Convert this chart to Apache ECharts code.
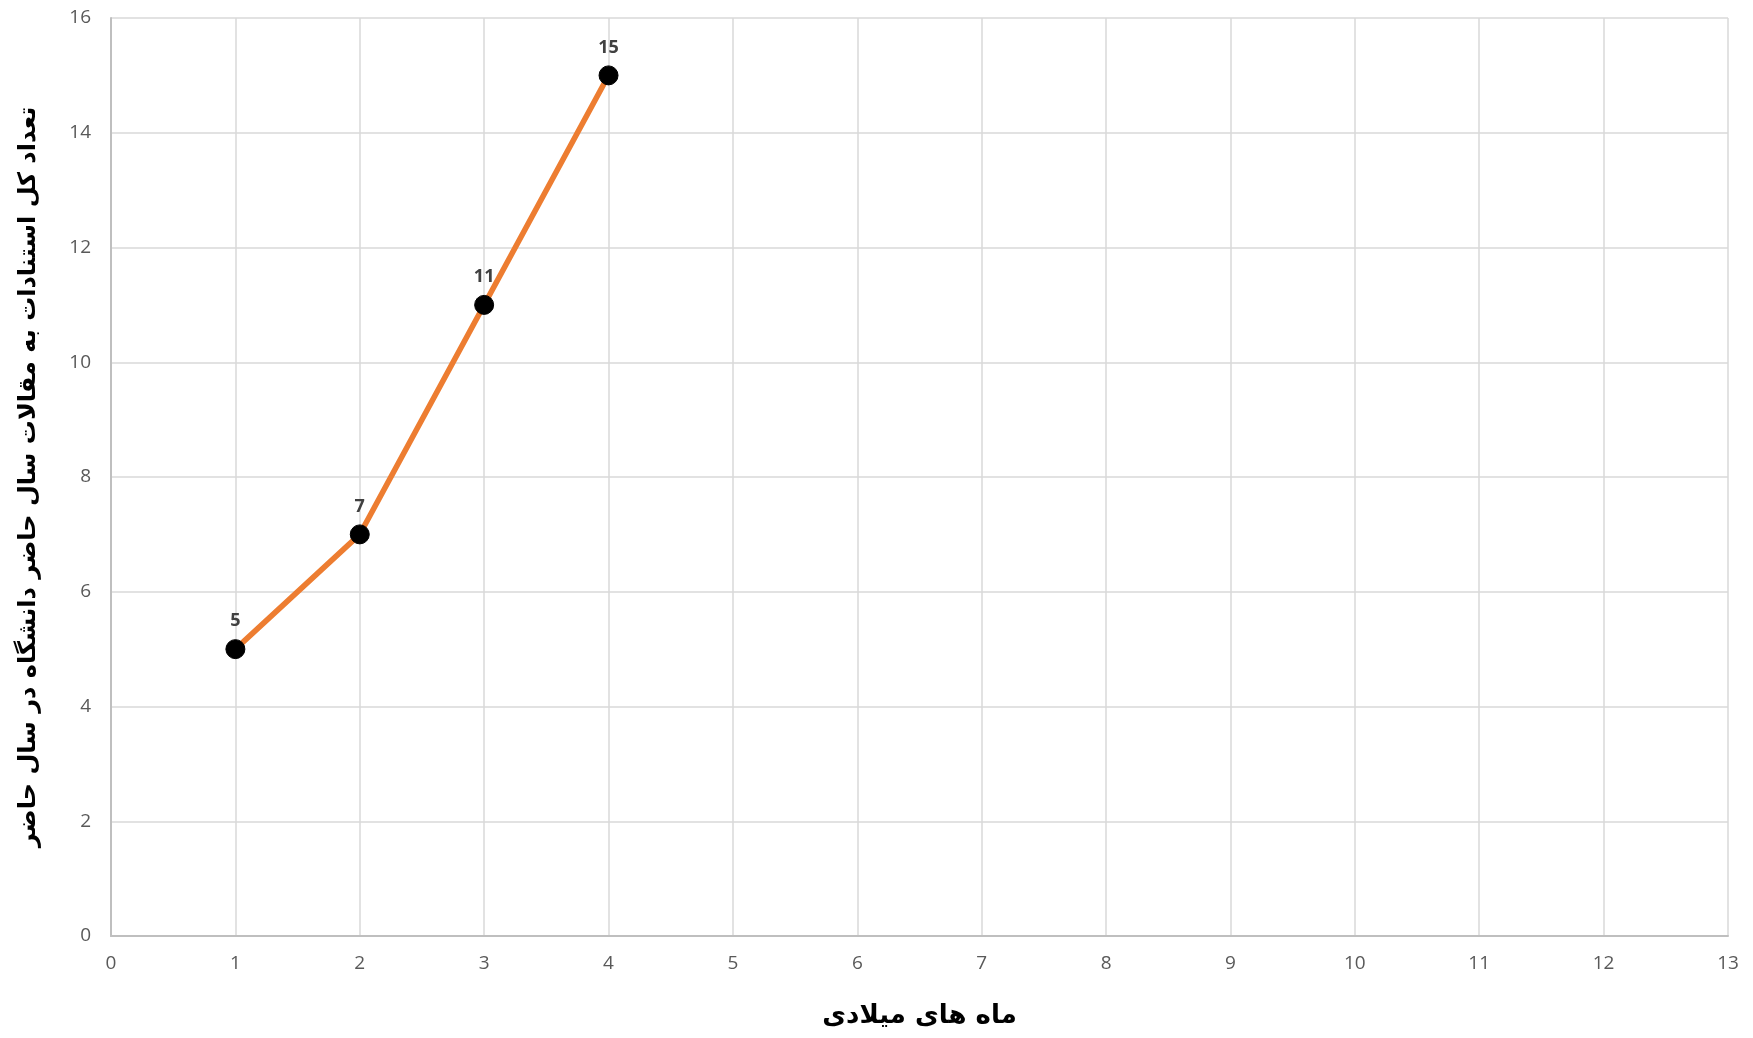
<!DOCTYPE html>
<html><head><meta charset="utf-8">
<script src="https://cdn.jsdelivr.net/npm/echarts@6/dist/echarts.min.js"></script>
<style>html,body{margin:0;padding:0;background:#fff}#c{width:1753px;height:1038px}</style>
</head><body><div id="c"></div>
<script>
const months = [1, 2, 3, 4];
const citations = [5, 7, 11, 15];
const xTitle = 'ماه های میلادی';
const yTitle = 'تعداد کل استنادات به مقالات سال حاضر دانشگاه در سال حاضر';

const chart = echarts.init(document.getElementById('c'));
chart.setOption({
  animation: false,
  backgroundColor: '#ffffff',
  grid: {left: 111, top: 18, right: 25, bottom: 102, containLabel: false, outerBoundsMode: 'none'},
  xAxis: {
    type: 'value', min: 0, max: 13, interval: 1,
    name: xTitle, nameLocation: 'middle', nameGap: 67,
    nameTextStyle: {fontFamily: 'DejaVu Sans', fontWeight: 'bold', fontSize: 26, color: '#000'},
    axisLine: {show: true, lineStyle: {color: '#bfbfbf', width: 2}},
    axisTick: {show: false},
    axisLabel: {color: '#595959', fontSize: 19, fontFamily: 'Open Sans', margin: 18},
    splitLine: {show: true, lineStyle: {color: '#d9d9d9', width: 1.5}}
  },
  yAxis: {
    type: 'value', min: 0, max: 16, interval: 2,
    name: yTitle, nameLocation: 'middle', nameGap: 70, nameRotate: 90,
    nameTextStyle: {fontFamily: 'DejaVu Sans', fontWeight: 'bold', fontSize: 24, color: '#000'},
    axisLine: {show: true, lineStyle: {color: '#bfbfbf', width: 2}},
    axisTick: {show: false},
    axisLabel: {color: '#595959', fontSize: 19, fontFamily: 'Open Sans', margin: 20},
    splitLine: {show: true, lineStyle: {color: '#d9d9d9', width: 1.5}}
  },
  series: [{
    type: 'line',
    data: months.map((m, i) => [m, citations[i]]),
    symbol: 'circle', symbolSize: 19,
    itemStyle: {color: '#000000', borderColor: '#000000'},
    lineStyle: {color: '#ED7D31', width: 5.5},
    label: {show: true, position: 'top', distance: 9, color: '#404040', fontWeight: 'bold', fontSize: 18, fontFamily: 'Open Sans'}
  }]
});
</script></body></html>
